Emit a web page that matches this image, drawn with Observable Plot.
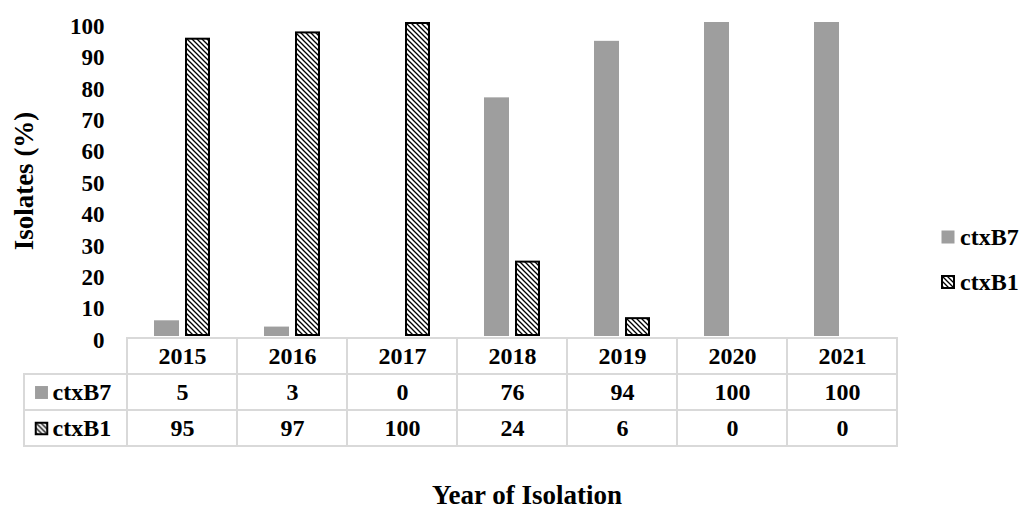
<!DOCTYPE html>
<html>
<head>
<meta charset="utf-8">
<script src="https://cdn.jsdelivr.net/npm/d3@7"></script>
<script src="https://cdn.jsdelivr.net/npm/@observablehq/plot@0.6"></script>
<style>
  html, body { margin: 0; padding: 0; background: #fff; }
  #wrap {
    position: relative; width: 1021px; height: 510px; overflow: hidden;
    font-family: "Liberation Serif", "Times New Roman", serif; font-weight: bold; color: #000;
  }
  #wrap > svg, #wrap > div { position: absolute; }
  #wrap > svg { overflow: visible; }
  .ytitle { left: 24px; top: 181px; transform: translate(-50%, -50%) rotate(-90deg); font-size: 27px; white-space: nowrap; }
  .xtitle { left: 527px; top: 482px; transform: translateX(-50%); font-size: 27px; line-height: 1; white-space: nowrap; }
  .legend { left: 941px; top: 225px; font-size: 24px; line-height: 1; }
  .legend .item { display: flex; align-items: center; height: 24px; margin-bottom: 21px; }
  .legend svg { margin-right: 5px; }
</style>
</head>
<body>
<div id="wrap">
  <svg width="0" height="0" style="position:absolute">
    <defs>
      <pattern id="hatchB1" patternUnits="userSpaceOnUse" width="5" height="5">
        <rect width="5" height="5" fill="#fff"></rect>
        <path d="M-1,-1L6,6M-1,4L1,6M4,-1L6,1" stroke="#000" stroke-width="1.3"></path>
      </pattern>
    </defs>
  </svg>
</div>
<script>
// Share of isolates carrying each ctxB genotype, by year of isolation
const years = ["2015", "2016", "2017", "2018", "2019", "2020", "2021"];
const ctxB7 = [5, 3, 0, 76, 94, 100, 100];
const ctxB1 = [95, 97, 100, 24, 6, 0, 0];
const seriesNames = ["ctxB7", "ctxB1"];
const yTicks = [0, 10, 20, 30, 40, 50, 60, 70, 80, 90, 100];

const gray = "#9e9e9e";
const hatch = "url(#hatchB1)";
const gridColor = "#d9d9d9";
const font = "'Liberation Serif', 'Times New Roman', serif";

const rows = years.flatMap((year, i) => [
  {year, series: "ctxB7", value: ctxB7[i]},
  {year, series: "ctxB1", value: ctxB1[i]}
]);

const wrap = document.getElementById("wrap");

// Grouped bars
const bars = Plot.plot({
  width: 1021,
  height: 350,
  marginTop: 22,
  marginBottom: 14,
  marginLeft: 124,
  marginRight: 121,
  style: {fontFamily: font, fontWeight: "bold", fontSize: "23px", background: "transparent", color: "#000", overflow: "visible"},
  fx: {domain: years, padding: 0, axis: null},
  x: {domain: seriesNames, paddingInner: 0.19, paddingOuter: 0.854, axis: null},
  y: {domain: [0, 100]},
  marks: [
    Plot.axisY({ticks: yTicks, tickSize: 0, tickPadding: 23, label: null, dy: 4, fontSize: 23}),
    Plot.barY(rows, {filter: d => d.series === "ctxB7" && d.value > 0, fx: "year", x: "series", y: "value", fill: gray}),
    Plot.barY(rows, {filter: d => d.series === "ctxB1" && d.value > 0, fx: "year", x: "series", y: "value",
      fill: hatch, stroke: "#000", strokeWidth: 2, inset: 1})
  ]
});
bars.style.left = "0px";
bars.style.top = "0px";
wrap.appendChild(bars);

// Data table under the bars
const headerCells = years.map(year => ({col: year, row: "year"}));
const valueCells = rows.map(d => ({col: d.year, row: d.series, value: d.value}));
const labelCells = seriesNames.map(s => ({col: "label", row: s}));

const table = Plot.plot({
  width: 1021,
  height: 122,
  marginTop: 2,
  marginBottom: 10,
  marginLeft: 13,
  marginRight: 121,
  style: {fontFamily: font, fontWeight: "bold", fontSize: "24px", background: "transparent", color: "#000", overflow: "visible"},
  x: {domain: ["label", ...years], padding: 0, axis: null},
  y: {domain: ["year", ...seriesNames], padding: 0, axis: null},
  marks: [
    Plot.cell(headerCells.concat(valueCells), {x: "col", y: "row", fill: "none", stroke: gridColor, strokeWidth: 2, inset: 0}),
    Plot.cell(labelCells, {x: "col", y: "row", fill: "none", stroke: gridColor, strokeWidth: 2, inset: 0, insetLeft: 7}),
    Plot.text(headerCells, {x: "col", y: "row", text: "col", fontSize: 24}),
    Plot.text(valueCells, {x: "col", y: "row", text: d => String(d.value), fontSize: 24}),
    Plot.text(labelCells, {x: "col", y: "row", text: "row", textAnchor: "start", dx: -20, fontSize: 24}),
    Plot.dot(labelCells, {filter: d => d.row === "ctxB7", x: "col", y: "row", symbol: "square", r: 7.3, dx: -31, fill: gray}),
    Plot.dot(labelCells, {filter: d => d.row === "ctxB1", x: "col", y: "row", symbol: "square", r: 6.5, dx: -31,
      fill: hatch, stroke: "#000", strokeWidth: 2})
  ]
});
table.style.left = "0px";
table.style.top = "335px";
wrap.appendChild(table);

// Axis titles
const yTitle = document.createElement("div");
yTitle.className = "ytitle";
yTitle.textContent = "Isolates (%)";
wrap.appendChild(yTitle);

const xTitle = document.createElement("div");
xTitle.className = "xtitle";
xTitle.textContent = "Year of Isolation";
wrap.appendChild(xTitle);

// Legend
const legend = document.createElement("div");
legend.className = "legend";
seriesNames.forEach(name => {
  const item = document.createElement("div");
  item.className = "item";
  const sw = document.createElementNS("http://www.w3.org/2000/svg", "svg");
  sw.setAttribute("width", "14");
  sw.setAttribute("height", "14");
  const r = document.createElementNS("http://www.w3.org/2000/svg", "rect");
  if (name === "ctxB7") {
    r.setAttribute("x", "0.5"); r.setAttribute("y", "0.5");
    r.setAttribute("width", "13"); r.setAttribute("height", "13");
    r.setAttribute("fill", gray);
  } else {
    r.setAttribute("x", "1"); r.setAttribute("y", "1");
    r.setAttribute("width", "12"); r.setAttribute("height", "12");
    r.setAttribute("fill", hatch); r.setAttribute("stroke", "#000"); r.setAttribute("stroke-width", "2");
  }
  sw.appendChild(r);
  item.appendChild(sw);
  const label = document.createElement("span");
  label.textContent = name;
  item.appendChild(label);
  legend.appendChild(item);
});
wrap.appendChild(legend);
</script>
</body>
</html>
